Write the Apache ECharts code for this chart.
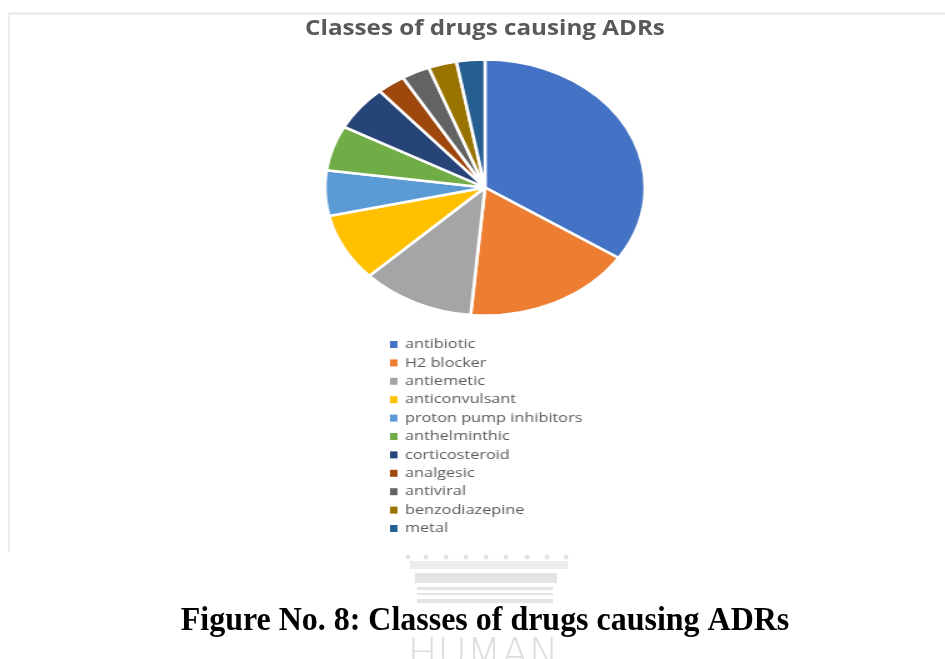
<!DOCTYPE html>
<html>
<head>
<meta charset="utf-8">
<script src="https://cdn.jsdelivr.net/npm/echarts@6/dist/echarts.min.js"></script>
<style>
  html, body { margin: 0; padding: 0; background: #fff; }
  #main { position: absolute; left: 0; top: 0; width: 945px; height: 659px; }
  /* the original pie picture is stretched sideways, so the pie chart is too */
  #pie { position: absolute; left: 0; top: 0; width: 756px; height: 659px;
         transform: scaleX(1.25); transform-origin: left top; }
</style>
</head>
<body>
<div id="main"></div>
<div id="pie"></div>
<script>
  const classes = ['antibiotic', 'H2 blocker', 'antiemetic', 'anticonvulsant',
    'proton pump inhibitors', 'anthelminthic', 'corticosteroid', 'analgesic',
    'antiviral', 'benzodiazepine', 'metal'];
  const counts = [12, 6, 4, 3, 2, 2, 2, 1, 1, 1, 1];
  const colors = ['#4472C4', '#ED7D31', '#A5A5A5', '#FFC000', '#5B9BD5', '#70AD47',
    '#264478', '#9E480E', '#636363', '#997300', '#255E91'];

  const chartTitle = 'Classes of drugs causing ADRs';
  const caption = 'Figure No. 8: Classes of drugs causing ADRs';

  // background page: frame lines, title, watermark and caption
  const main = echarts.init(document.getElementById('main'));
  const wm = '#e4e4e4';
  const studs = [408, 426, 446, 466, 486, 506, 527, 547, 566];
  main.setOption({
    graphic: [
      { type: 'line', shape: { x1: 8, y1: 13.5, x2: 945, y2: 13.5 }, style: { stroke: '#e6e6e6', lineWidth: 2 } },
      { type: 'line', shape: { x1: 9, y1: 13, x2: 9, y2: 552 }, style: { stroke: '#ececec', lineWidth: 2 } },
      {
        type: 'text', x: 485, y: 29, scaleX: 1.1,
        style: { text: chartTitle, fontFamily: 'Open Sans', fontWeight: 'bold', fontSize: 22,
          fill: '#595959', align: 'center', verticalAlign: 'middle' }
      },
      // watermark crown
      ...studs.map(x => ({ type: 'circle', shape: { cx: x, cy: 557, r: 2.5 }, style: { fill: wm } })),
      { type: 'rect', shape: { x: 410, y: 561, width: 158, height: 8 }, style: { fill: '#ececec' } },
      { type: 'rect', shape: { x: 415, y: 573, width: 142, height: 10 }, style: { fill: wm } },
      { type: 'rect', shape: { x: 417, y: 587, width: 136, height: 3 }, style: { fill: wm } },
      { type: 'rect', shape: { x: 417, y: 593, width: 136, height: 2 }, style: { fill: wm } },
      { type: 'rect', shape: { x: 417, y: 599, width: 136, height: 4 }, style: { fill: wm } },
      {
        type: 'text', x: 483, y: 637,
        style: { text: 'HUMAN', fontFamily: 'DejaVu Sans', fontWeight: 200, fontSize: 40,
          fill: '#dedede', align: 'center', verticalAlign: 'top' }
      },
      {
        type: 'text', x: 485, y: 621, scaleX: 0.94, z: 10,
        style: { text: caption, fontFamily: 'Liberation Serif', fontWeight: 'bold', fontSize: 34,
          fill: '#000', align: 'center', verticalAlign: 'middle' }
      }
    ]
  });

  // pie and legend, drawn in the narrow box that CSS stretches
  const pie = echarts.init(document.getElementById('pie'));
  pie.setOption({
    color: colors,
    legend: {
      orient: 'vertical',
      left: 312,
      top: 338,
      padding: 0,
      icon: 'rect',
      itemWidth: 6,
      itemHeight: 7,
      itemGap: 5.4,
      itemStyle: { borderWidth: 0 },
      data: classes,
      textStyle: { fontFamily: 'Open Sans', fontSize: 13, color: '#595959', padding: [0, 0, 0, 1] }
    },
    series: [{
      type: 'pie',
      center: [388, 187.5],
      radius: 128,
      startAngle: 90,
      label: { show: false },
      labelLine: { show: false },
      itemStyle: { borderColor: '#fff', borderWidth: 2.5 },
      data: classes.map((name, i) => ({ name: name, value: counts[i] }))
    }]
  });
</script>
</body>
</html>
